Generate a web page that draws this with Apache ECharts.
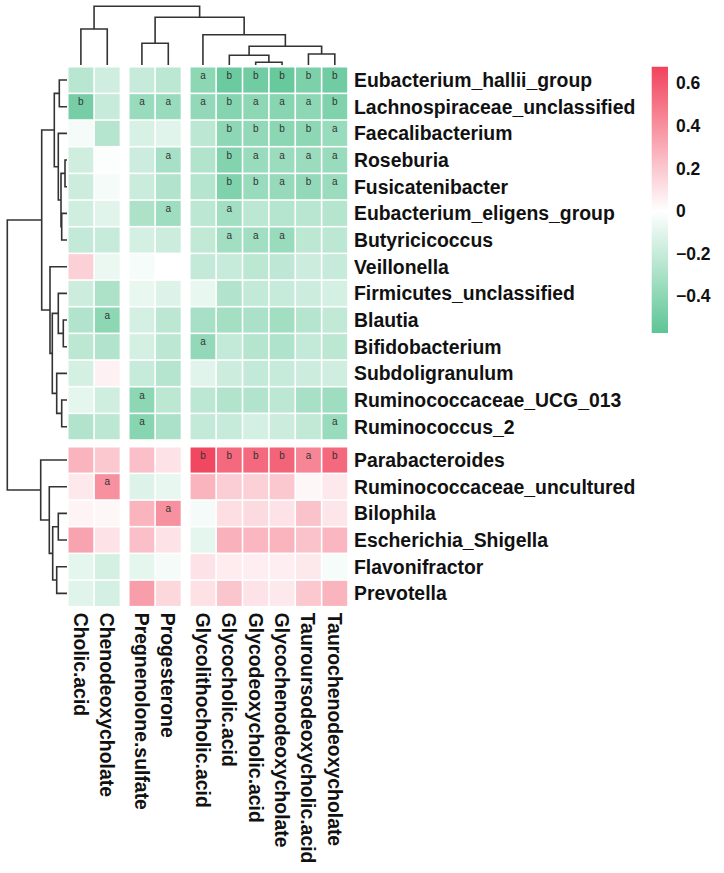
<!DOCTYPE html>
<html><head><meta charset="utf-8">
<script src="https://cdn.jsdelivr.net/npm/echarts@6/dist/echarts.min.js"></script>
<style>html,body{margin:0;padding:0;background:#fff}#c{width:724px;height:873px}</style>
</head><body><div id="c"></div>
<script>
// ---------------- data ----------------
const columns = ["Cholic.acid","Chenodeoxycholate","Pregnenolone.sulfate","Progesterone","Glycolithocholic.acid","Glycocholic.acid","Glycodeoxycholic.acid","Glycochenodeoxycholate","Tauroursodeoxycholic.acid","Taurochenodeoxycholate"];
const rows = ["Eubacterium_hallii_group","Lachnospiraceae_unclassified","Faecalibacterium","Roseburia","Fusicatenibacter","Eubacterium_eligens_group","Butyricicoccus","Veillonella","Firmicutes_unclassified","Blautia","Bifidobacterium","Subdoligranulum","Ruminococcaceae_UCG_013","Ruminococcus_2","Parabacteroides","Ruminococcaceae_uncultured","Bilophila","Escherichia_Shigella","Flavonifractor","Prevotella"];
const columnGroups = [0,0,1,1,2,2,2,2,2,2];
const rowGroups = [0,0,0,0,0,0,0,0,0,0,0,0,0,0,1,1,1,1,1,1];
const values = [
  [-0.25,-0.17,-0.20,-0.24,-0.40,-0.52,-0.50,-0.53,-0.46,-0.50],
  [-0.48,-0.20,-0.36,-0.36,-0.38,-0.43,-0.40,-0.42,-0.40,-0.45],
  [-0.04,-0.26,-0.14,-0.11,-0.24,-0.40,-0.38,-0.41,-0.40,-0.36],
  [-0.17,-0.01,-0.18,-0.31,-0.27,-0.44,-0.36,-0.35,-0.35,-0.36],
  [-0.18,-0.04,-0.19,-0.27,-0.26,-0.45,-0.36,-0.37,-0.38,-0.35],
  [-0.17,-0.11,-0.29,-0.34,-0.24,-0.33,-0.24,-0.26,-0.25,-0.26],
  [-0.21,-0.20,-0.15,-0.18,-0.22,-0.33,-0.33,-0.36,-0.24,-0.24],
  [ 0.17,-0.07,-0.03, 0.00,-0.21,-0.20,-0.24,-0.23,-0.18,-0.20],
  [-0.18,-0.29,-0.08,-0.12,-0.08,-0.27,-0.21,-0.20,-0.18,-0.15],
  [-0.27,-0.40,-0.15,-0.24,-0.31,-0.32,-0.30,-0.33,-0.26,-0.22],
  [-0.24,-0.27,-0.15,-0.24,-0.38,-0.21,-0.26,-0.28,-0.21,-0.24],
  [-0.15, 0.05,-0.20,-0.26,-0.11,-0.18,-0.21,-0.20,-0.18,-0.17],
  [-0.09,-0.17,-0.40,-0.24,-0.24,-0.27,-0.27,-0.24,-0.31,-0.34],
  [-0.27,-0.24,-0.42,-0.30,-0.21,-0.20,-0.15,-0.18,-0.22,-0.36],
  [ 0.27, 0.20, 0.23, 0.10, 0.66, 0.54, 0.54, 0.56, 0.44, 0.54],
  [ 0.08, 0.40,-0.12,-0.08, 0.27, 0.18, 0.17, 0.20, 0.03, 0.08],
  [ 0.04, 0.03, 0.27, 0.40,-0.04, 0.12, 0.13, 0.10, 0.22, 0.09],
  [ 0.33, 0.10, 0.23, 0.10,-0.09, 0.28, 0.26, 0.27, 0.22, 0.26],
  [-0.09,-0.15,-0.09,-0.04, 0.10, 0.07, 0.06, 0.06, 0.08,-0.03],
  [-0.11,-0.15, 0.35, 0.14, 0.11, 0.21, 0.10, 0.08, 0.20, 0.27]
];
const significance = [
  "....abbbbb",
  "b.aaabaaab",
  ".....bbbba",
  "...a.baaaa",
  ".....bbaba",
  "...a.a....",
  ".....aaa..",
  "..........",
  "..........",
  ".a........",
  "....a.....",
  "..........",
  "..a.......",
  "..a......a",
  "....bbbbab",
  ".a........",
  "...a......",
  "..........",
  "..........",
  ".........."
];
// hclust-style merges: negative = leaf (1-based), positive = earlier merge (1-based), then height
const columnTree = [
  [-7,-8,2.7],[-6,1,9.7],[-9,-10,11],[2,3,18.7],[-5,4,30.3],
  [-3,-4,21.7],[6,5,47.7],[-1,-2,36],[8,7,58.7]
];
const rowTree = [
  [-1,-2,7.7],[-4,-5,2],[-6,-7,5.3],[2,3,6],[-3,4,8.7],[1,5,12.7],
  [-10,-11,3.7],[-9,7,8.7],[-13,-14,5.3],[-12,9,10.3],[8,10,14.7],[-8,11,17],
  [6,12,25.3],[-17,-18,8.7],[-19,-20,10.3],[14,15,14.3],[-16,16,17.7],[-15,17,26.3],
  [13,18,59.7]
];
const legendTicks = [-0.4,-0.2,0,0.2,0.4,0.6];
const colorRange = [-0.574, 0.679];

// ---------------- layout / style ----------------
const FONT = '"Liberation Sans", Arial, Helvetica, sans-serif';
const GAP_X = 0.314, GAP_Y = 0.25;
const MAX_X = columns.length + GAP_X * 2;
const MAX_Y = rows.length + GAP_Y;
const GREEN = [92,197,149], RED = [241,67,92], WHITE = [255,255,255];
const colPos = c => c + GAP_X * columnGroups[c] + 0.5;
const rowPos = r => r + GAP_Y * rowGroups[r] + 0.5;

function colorOf(v) {
  let t, c;
  if (v < 0) { t = Math.min(1, v / colorRange[0]); c = GREEN; }
  else { t = Math.min(1, v / colorRange[1]); c = RED; }
  return 'rgb(' + WHITE.map((w, i) => Math.round(w + (c[i] - w) * t)).join(',') + ')';
}
function layoutTree(tree, leafPos) {
  const nodes = [], segs = [];
  tree.forEach(([a, b, h]) => {
    const A = a < 0 ? { p: leafPos(-a - 1), h: 0 } : nodes[a - 1];
    const B = b < 0 ? { p: leafPos(-b - 1), h: 0 } : nodes[b - 1];
    nodes.push({ p: (A.p + B.p) / 2, h: h });
    segs.push([A.p, B.p, A.h, B.h, h]);
  });
  return segs;
}
const nearestName = (list, posFn) => v => {
  let best = 0, d = Infinity;
  list.forEach((_, i) => { const dd = Math.abs(posFn(i) - v); if (dd < d) { d = dd; best = i; } });
  return list[best];
};

const heatData = [];
rows.forEach((_, r) => columns.forEach((_, c) => heatData.push([colPos(c), rowPos(r), values[r][c], r, c])));

const colSegs = layoutTree(columnTree, colPos);
const rowSegs = layoutTree(rowTree, rowPos);

const LINE = { stroke: '#333', lineWidth: 1.6, fill: null };
const labelFont = { fontSize: 19.4, fontWeight: 'bold', color: '#111', fontFamily: FONT };
const hidden = { show: false };

const chart = echarts.init(document.getElementById('c'), null, { renderer: 'svg' });
chart.setOption({
  animation: false,
  backgroundColor: '#fff',
  grid: [
    { left: 67.7, top: 66.7, width: 280.3, height: 540 },
    { left: 67.7, top: 5, width: 280.3, height: 60 },
    { left: 7, top: 66.7, width: 60, height: 540 },
    { left: 651.7, top: 66.7, width: 16.3, height: 266.3 }
  ],
  xAxis: [
    { gridIndex: 0, type: 'value', min: 0, max: MAX_X, axisLine: hidden, axisTick: hidden, splitLine: hidden,
      axisLabel: Object.assign({ customValues: columns.map((_, c) => colPos(c)), formatter: nearestName(columns, colPos), rotate: -90, margin: 6 }, labelFont) },
    { gridIndex: 1, type: 'value', min: 0, max: MAX_X, show: false },
    { gridIndex: 2, type: 'value', min: 0, max: 60, inverse: true, show: false },
    { gridIndex: 3, type: 'value', min: 0, max: 1, show: false }
  ],
  yAxis: [
    { gridIndex: 0, type: 'value', min: 0, max: MAX_Y, inverse: true, position: 'right', axisLine: hidden, axisTick: hidden, splitLine: hidden,
      axisLabel: Object.assign({ customValues: rows.map((_, r) => rowPos(r)), formatter: nearestName(rows, rowPos), margin: 6 }, labelFont) },
    { gridIndex: 1, type: 'value', min: 0, max: 60, show: false },
    { gridIndex: 2, type: 'value', min: 0, max: MAX_Y, inverse: true, show: false },
    { gridIndex: 3, type: 'value', min: colorRange[0], max: colorRange[1], position: 'right', axisLine: hidden, axisTick: hidden, splitLine: hidden,
      axisLabel: { customValues: legendTicks, margin: 8, fontSize: 17.5, fontWeight: 'bold', color: '#111', fontFamily: FONT,
        formatter: v => v < 0 ? '\u2212' + Math.abs(v) : String(v) } }
  ],
  series: [
    { type: 'custom', xAxisIndex: 0, yAxisIndex: 0, data: heatData, silent: true,
      renderItem: function (params, api) {
        const ctr = api.coord([api.value(0), api.value(1)]);
        const sz = api.size([1, 1]);
        const w = Math.abs(sz[0]), h = Math.abs(sz[1]);
        const r = api.value(3), c = api.value(4);
        const children = [{ type: 'rect', shape: { x: ctr[0] - w / 2 + 0.8, y: ctr[1] - h / 2 + 0.8, width: w - 1.6, height: h - 1.6 },
          style: { fill: colorOf(api.value(2)) } }];
        const s = significance[r][c];
        if (s !== '.') children.push({ type: 'text', style: { text: s, x: ctr[0], y: ctr[1] - h / 2 + 8.5, align: 'center', verticalAlign: 'middle',
          fill: '#333', fontSize: 10, fontFamily: FONT } });
        return { type: 'group', children: children };
      } },
    { type: 'custom', xAxisIndex: 1, yAxisIndex: 1, data: colSegs, silent: true,
      renderItem: function (params, api) {
        const pL = api.value(0), pR = api.value(1), hL = api.value(2), hR = api.value(3), h = api.value(4);
        return { type: 'polyline', shape: { points: [api.coord([pL, hL]), api.coord([pL, h]), api.coord([pR, h]), api.coord([pR, hR])] }, style: LINE };
      } },
    { type: 'custom', xAxisIndex: 2, yAxisIndex: 2, data: rowSegs, silent: true,
      renderItem: function (params, api) {
        const pL = api.value(0), pR = api.value(1), hL = api.value(2), hR = api.value(3), h = api.value(4);
        return { type: 'polyline', shape: { points: [api.coord([hL, pL]), api.coord([h, pL]), api.coord([h, pR]), api.coord([hR, pR])] }, style: LINE };
      } },
    { type: 'custom', xAxisIndex: 3, yAxisIndex: 3, data: [[0, colorRange[0], 1, colorRange[1]]], silent: true,
      renderItem: function (params, api) {
        const a = api.coord([api.value(0), api.value(3)]);
        const b = api.coord([api.value(2), api.value(1)]);
        const zero = colorRange[1] / (colorRange[1] - colorRange[0]);
        return { type: 'rect', shape: { x: a[0], y: a[1], width: b[0] - a[0], height: b[1] - a[1] },
          style: { fill: new echarts.graphic.LinearGradient(0, 0, 0, 1, [
            { offset: 0, color: colorOf(colorRange[1]) }, { offset: zero, color: '#ffffff' }, { offset: 1, color: colorOf(colorRange[0]) }]) } };
      } }
  ]
});
</script></body></html>
